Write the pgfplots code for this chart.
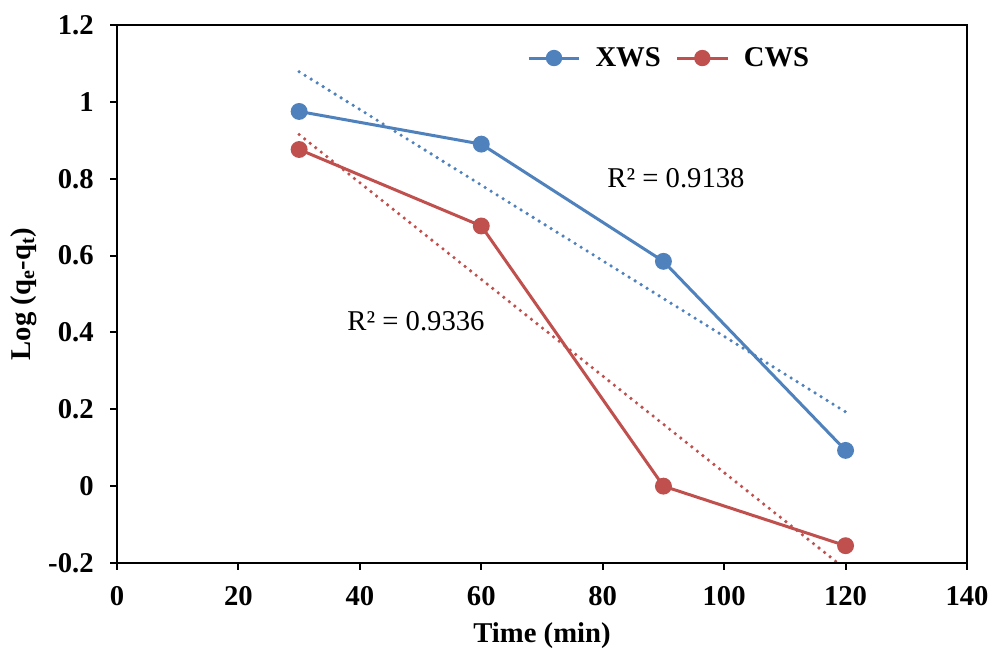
\documentclass[border=0pt]{standalone}
\usepackage{pgfplots}
\pgfplotsset{compat=1.18}
\usepackage{fontspec}
\setmainfont{Liberation Serif}
\definecolor{xblue}{HTML}{4F81BD}
\definecolor{cred}{HTML}{C0504D}
\begin{document}
\begin{tikzpicture}
\begin{axis}[
  scale only axis,
  width=637.5pt, height=403.5pt,
  xmin=0, xmax=140, ymin=-0.2, ymax=1.2,
  xtick={0,20,...,140}, ytick={-0.2,0,0.2,0.4,0.6,0.8,1,1.2},
  yticklabels={-0.2,0,0.2,0.4,0.6,0.8,1,1.2},
  xticklabels={0,20,40,60,80,100,120,140},
  tick align=outside, tick pos=left,
  major tick length=5pt,
  tick style={line width=1.5pt, black},
  axis line style={line width=0.8pt},
  ticklabel style={font=\fontsize{21.5}{24}\selectfont\bfseries},
  xticklabel style={yshift=-9pt},
  yticklabel style={xshift=-9pt},
  /pgf/number format/assume math mode=true,
  xlabel={\fontsize{21.5}{24}\selectfont\bfseries Time (min)},
  ylabel={\fontsize{21.5}{24}\selectfont\bfseries Log (q\textsubscript{e}-q\textsubscript{t})},
  xlabel style={yshift=-6pt},
  ylabel style={yshift=2pt},
  clip=true,
  legend style={draw=none, fill=none, at={(axis cs:91,1.114)}, anchor=center,
    font=\fontsize{21.5}{24}\selectfont\bfseries, legend columns=2,
    column sep=9pt},
  legend image code/.code={
    \draw[#1, line width=2.25pt] (0pt,0pt) -- (38pt,0pt);
    \fill[#1] (19pt,0pt) circle (5pt);
  },
  trend/.style={line width=2.7pt, line cap=round, dash pattern=on 0pt off 5.3pt, forget plot},
]
\addplot[color=xblue, line width=2.25pt, mark=*, mark size=5.2pt] coordinates {(30,0.975) (60,0.890) (90,0.585) (120,0.093)};
\addlegendentry{XWS}
\addplot[color=cred, line width=2.25pt, mark=*, mark size=5.2pt] coordinates {(30,0.876) (60,0.677) (90,0.000) (120,-0.155)};
\addlegendentry{CWS}
\addplot[color=xblue, trend] coordinates {(30,1.0784) (120,0.1931)};
\addplot[color=cred, trend] coordinates {(30,0.9150) (120,-0.2160)};
\node[font=\fontsize{21.5}{24}\selectfont] at (axis cs:92.07,0.802) {R² = 0.9138};
\node[font=\fontsize{21.5}{24}\selectfont] at (axis cs:49.25,0.430) {R² = 0.9336};
\draw[line width=2.2pt] (axis cs:0,-0.2) -- (axis cs:0,1.2);
\draw[line width=2pt] (axis cs:0,-0.2) -- (axis cs:140,-0.2);
\draw[line width=1.5pt] (axis cs:140,-0.2) -- (axis cs:140,1.2);
\end{axis}
\pgfresetboundingbox
\useasboundingbox (-87.75pt,-69pt) rectangle (658.5pt,422.25pt);
\end{tikzpicture}
\end{document}
